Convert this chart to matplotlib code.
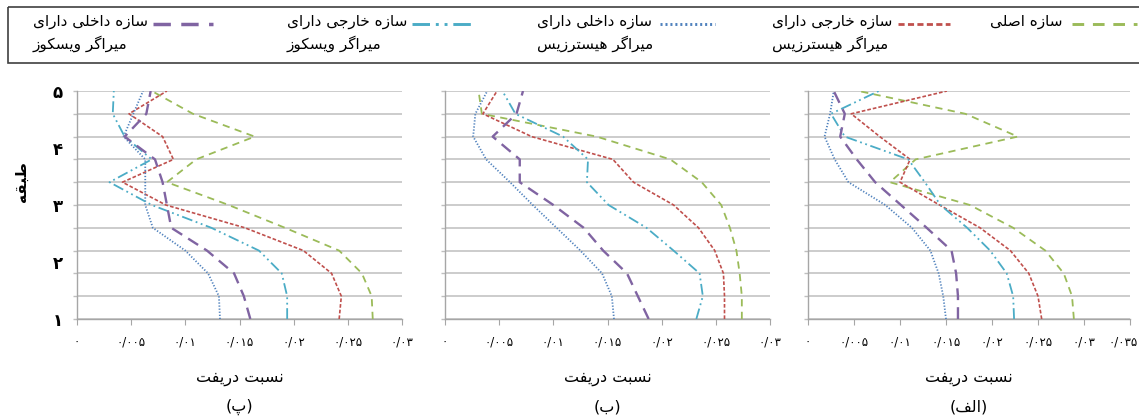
import matplotlib
matplotlib.use("Agg")
import matplotlib.pyplot as plt
from matplotlib.ticker import FixedLocator
from matplotlib.patches import Rectangle
from matplotlib.transforms import ScaledTranslation

plt.rcParams['font.family'] = ['DejaVu Sans']

# ---------------- data ----------------
levels = [1.0, 1.4, 1.8, 2.2, 2.6, 3.0, 3.4, 3.8, 4.2, 4.6, 5.0]
floor_ticks = [1, 2, 3, 4, 5]

# panel (پ) - left
p_main = [0.0273, 0.0272, 0.0263, 0.0242, 0.0192, 0.0140, 0.0083, 0.0110, 0.0164, 0.0107, 0.0069]
p_ext_hys = [0.0242, 0.0244, 0.0235, 0.0209, 0.0155, 0.0082, 0.0042, 0.0089, 0.0079, 0.0048, 0.0083]
p_int_hys = [0.0132, 0.0131, 0.0121, 0.0100, 0.0070, 0.0063, 0.0063, 0.0063, 0.0043, 0.0052, 0.0061]
p_ext_vis = [0.0194, 0.0194, 0.0189, 0.0168, 0.0124, 0.0069, 0.0030, 0.0069, 0.0044, 0.0033, 0.0034]
p_int_vis = [0.0160, 0.0154, 0.0145, 0.0120, 0.0087, 0.0083, 0.0079, 0.0072, 0.0044, 0.0064, 0.0068]

# panel (ب) - middle
b_main = [0.0274, 0.0274, 0.0272, 0.0269, 0.0263, 0.0255, 0.0237, 0.0208, 0.0140, 0.0034, 0.0031]
b_ext_hys = [0.0258, 0.0258, 0.0257, 0.0249, 0.0234, 0.0211, 0.0174, 0.0155, 0.0080, 0.0035, 0.0048]
b_int_hys = [0.0156, 0.0154, 0.0145, 0.0125, 0.0103, 0.0081, 0.0060, 0.0038, 0.0026, 0.0028, 0.0039]
b_ext_vis = [0.0232, 0.0238, 0.0235, 0.0211, 0.0186, 0.0151, 0.0131, 0.0132, 0.0109, 0.0065, 0.0053]
b_int_vis = [0.0188, 0.0178, 0.0168, 0.0146, 0.0128, 0.0100, 0.0069, 0.0069, 0.0044, 0.0066, 0.0072]

# panel (الف) - right
a_main = [0.0289, 0.0287, 0.0278, 0.0258, 0.0223, 0.0176, 0.0089, 0.0117, 0.0228, 0.0171, 0.0055]
a_ext_hys = [0.0254, 0.0250, 0.0240, 0.0220, 0.0187, 0.0143, 0.0100, 0.0111, 0.0078, 0.0047, 0.0151]
a_int_hys = [0.0150, 0.0147, 0.0142, 0.0133, 0.0113, 0.0084, 0.0044, 0.0029, 0.0018, 0.0024, 0.0028]
a_ext_vis = [0.0224, 0.0223, 0.0216, 0.0198, 0.0173, 0.0144, 0.0127, 0.0109, 0.0040, 0.0025, 0.0077]
a_int_vis = [0.0163, 0.0163, 0.0161, 0.0156, 0.0129, 0.0101, 0.0073, 0.0053, 0.0035, 0.0040, 0.0028]

xticks_30 = [0, 0.005, 0.01, 0.015, 0.02, 0.025, 0.03]
xticks_35 = [0, 0.005, 0.01, 0.015, 0.02, 0.025, 0.03, 0.035]

series_names = ["سازه اصلی",
                "سازه خارجی دارای\nمیراگر هیسترزیس",
                "سازه داخلی دارای\nمیراگر هیسترزیس",
                "سازه خارجی دارای\nمیراگر ویسکوز",
                "سازه داخلی دارای\nمیراگر ویسکوز"]
xlabel_text = "نسبت دریفت"
ylabel_text = "طبقه"
panel_letters = ["پ", "ب", "الف"]

# ---------------- Arabic shaping (presentation forms) ----------------
_FORMS = {
    'ا': ('\uFE8D', '\uFE8E', None, None),
    'ب': ('\uFE8F', '\uFE90', '\uFE91', '\uFE92'),
    'پ': ('\uFB56', '\uFB57', '\uFB58', '\uFB59'),
    'ت': ('\uFE95', '\uFE96', '\uFE97', '\uFE98'),
    'ج': ('\uFE9D', '\uFE9E', '\uFE9F', '\uFEA0'),
    'خ': ('\uFEA5', '\uFEA6', '\uFEA7', '\uFEA8'),
    'د': ('\uFEA9', '\uFEAA', None, None),
    'ر': ('\uFEAD', '\uFEAE', None, None),
    'ز': ('\uFEAF', '\uFEB0', None, None),
    'س': ('\uFEB1', '\uFEB2', '\uFEB3', '\uFEB4'),
    'ص': ('\uFEB9', '\uFEBA', '\uFEBB', '\uFEBC'),
    'ط': ('\uFEC1', '\uFEC2', '\uFEC3', '\uFEC4'),
    'ف': ('\uFED1', '\uFED2', '\uFED3', '\uFED4'),
    'ق': ('\uFED5', '\uFED6', '\uFED7', '\uFED8'),
    'ک': ('\uFB8E', '\uFB8F', '\uFB90', '\uFB91'),
    'گ': ('\uFB92', '\uFB93', '\uFB94', '\uFB95'),
    'ل': ('\uFEDD', '\uFEDE', '\uFEDF', '\uFEE0'),
    'م': ('\uFEE1', '\uFEE2', '\uFEE3', '\uFEE4'),
    'ن': ('\uFEE5', '\uFEE6', '\uFEE7', '\uFEE8'),
    'ه': ('\uFEE9', '\uFEEA', '\uFEEB', '\uFEEC'),
    'و': ('\uFEED', '\uFEEE', None, None),
    'ی': ('\uFBFC', '\uFBFD', '\uFBFE', '\uFBFF'),
}


def shape_line(s):
    out = []
    n = len(s)
    for i, c in enumerate(s):
        f = _FORMS.get(c)
        if f is None:
            out.append(c)
            continue
        prev = s[i - 1] if i > 0 else None
        nxt = s[i + 1] if i < n - 1 else None
        jp = prev in _FORMS and _FORMS[prev][2] is not None
        jn = f[2] is not None and nxt in _FORMS
        if jp and jn:
            g = f[3]
        elif jp:
            g = f[1]
        elif jn:
            g = f[2]
        else:
            g = f[0]
        out.append(g)
    return ''.join(reversed(out))


def rtl(s):
    return '\n'.join(shape_line(l) for l in s.split('\n'))


PD = str.maketrans('0123456789.', '۰۱۲۳۴۵۶۷۸۹/')


def fa_num(v):
    return f"{v:g}".translate(PD)


# ---------------- styles ----------------
colors = ['#9BBB59', '#C0504D', '#4F81BD', '#4BACC6', '#8064A2']
dashes = [(4, 3), (2.2, 1.2), (0.7, 1.0), (6, 2, 1, 2, 1, 2), (5, 3)]
lws = [1.3, 1.2, 1.3, 1.3, 1.7]

W, H = 1139, 419
fig = plt.figure(figsize=(W / 100, H / 100), dpi=100)

panels = [
    ((77, 325), [p_main, p_ext_hys, p_int_hys, p_ext_vis, p_int_vis], xticks_30, panel_letters[0], True),
    ((445, 325), [b_main, b_ext_hys, b_int_hys, b_ext_vis, b_int_vis], xticks_30, panel_letters[1], False),
    ((808, 322), [a_main, a_ext_hys, a_int_hys, a_ext_vis, a_int_vis], xticks_35, panel_letters[2], False),
]

ax_top, ax_bot = 91, 319
grid_c = '#BFBFBF'
spine_c = '#A6A6A6'

for (x0, w), data, xt, letter, show_y in panels:
    ax = fig.add_axes([x0 / W, 1 - ax_bot / H, w / W, (ax_bot - ax_top) / H])
    for vals, c, d, lw in zip(data, colors, dashes, lws):
        ax.plot(vals, levels, color=c, lw=lw, dashes=d, zorder=3)
    ax.set_xlim(xt[0], xt[-1])
    ax.set_ylim(1, 5)
    ax.set_xticks(xt)
    labels = ax.set_xticklabels([fa_num(v) for v in xt], fontsize=8.5)
    ax.tick_params(axis='x', direction='out', length=4, color=spine_c, pad=8)
    if len(xt) == 8:
        last = labels[-1]
        last.set_horizontalalignment('right')
        last.set_transform(last.get_transform() + ScaledTranslation(8 / 100, 0, fig.dpi_scale_trans))
    ax.yaxis.set_major_locator(FixedLocator(floor_ticks))
    ax.yaxis.set_minor_locator(FixedLocator(levels))
    ax.yaxis.remove_overlapping_locs = False
    ax.tick_params(axis='y', which='major', length=0, pad=10)
    ax.tick_params(axis='y', which='minor', length=3, color=grid_c, width=1)
    if show_y:
        ax.set_yticklabels([fa_num(v) for v in floor_ticks], fontsize=12, fontweight='bold')
    else:
        ax.set_yticklabels([])
    ax.grid(True, axis='y', which='minor', color=grid_c, lw=1.1)
    ax.grid(False, axis='y', which='major')
    ax.grid(False, axis='x')
    for s in ['top', 'right']:
        ax.spines[s].set_visible(False)
    for s in ['left', 'bottom']:
        ax.spines[s].set_color(spine_c)
        ax.spines[s].set_linewidth(1.0)
    ax.set_xlabel(rtl(xlabel_text), fontsize=11.5, labelpad=16)
    ax.text(0.5, -0.385, '(' + rtl(letter) + ')', transform=ax.transAxes,
            ha='center', va='center', fontsize=11.5)

fig.text(21 / W, 1 - 182 / H, rtl(ylabel_text), rotation=90, ha='center', va='center',
         fontsize=11, fontweight='bold')

# ---------------- legend (right-to-left layout) ----------------
ov = fig.add_axes([0, 0, 1, 1], zorder=5)
ov.set_xlim(0, W)
ov.set_ylim(H, 0)
ov.set_axis_off()
ov.add_patch(Rectangle((8, 7), W, 56, fill=False, ec='#404040', lw=1.2, clip_on=False))

leg_line_x = [(1072, 1137), (898, 950), (660, 715), (412, 472), (153, 213)]
leg_text_right = [1063, 892, 653, 407, 148]
leg_y = 24
for name, c, d, lw, (lx0, lx1), tr in zip(series_names, colors, dashes, lws, leg_line_x, leg_text_right):
    ov.plot([lx0, lx1], [leg_y, leg_y], color=c, lw=lw + 0.8, dashes=d, clip_on=False)
    ov.text(tr, leg_y - 10, rtl(name), ha='right', va='top', fontsize=11,
            multialignment='left', linespacing=1.5)

fig.savefig('out.png', dpi=100)
